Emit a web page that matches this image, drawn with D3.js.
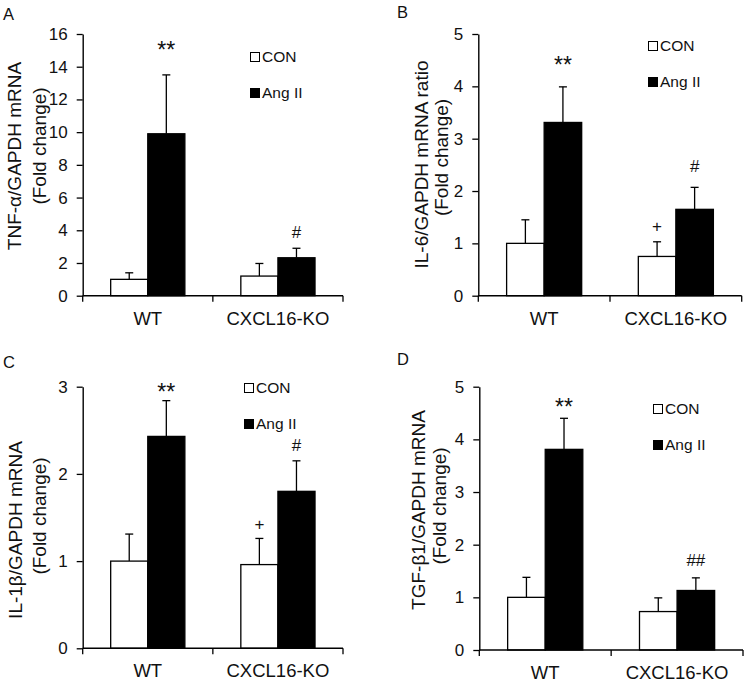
<!DOCTYPE html>
<html>
<head>
<meta charset="utf-8">
<script src="https://cdn.jsdelivr.net/npm/d3@7"></script>
<style>
  body { margin: 0; background: #fff; }
  svg { display: block; font-family: "Liberation Sans", Arial, sans-serif; }
</style>
</head>
<body>
<svg id="fig" width="750" height="683"></svg>
<script>
/*------------------- data --------------------*/
const groups = ["WT", "CXCL16-KO"];
const seriesNames = ["CON", "Ang II"];

// A: TNF-alpha
const tnfCon = [1.0, 1.2];
const tnfConSd = [0.4, 0.77];
const tnfAng = [9.9, 2.32];
const tnfAngSd = [3.6, 0.58];
const tnfTicks = [0, 2, 4, 6, 8, 10, 12, 14, 16];
const tnfTitle = ["TNF-α/GAPDH mRNA", "(Fold change)"];
const tnfMarks = [{ g: 0, s: 1, t: "**" }, { g: 1, s: 1, t: "#" }];

// B: IL-6
const il6Con = [1.0, 0.75];
const il6ConSd = [0.45, 0.28];
const il6Ang = [3.31, 1.65];
const il6AngSd = [0.68, 0.42];
const il6Ticks = [0, 1, 2, 3, 4, 5];
const il6Title = ["IL-6/GAPDH mRNA ratio", "(Fold change)"];
const il6Marks = [{ g: 0, s: 1, t: "**" }, { g: 1, s: 0, t: "+" }, { g: 1, s: 1, t: "#" }];

// C: IL-1beta
const il1Con = [1.0, 0.96];
const il1ConSd = [0.31, 0.3];
const il1Ang = [2.43, 1.8];
const il1AngSd = [0.41, 0.35];
const il1Ticks = [0, 1, 2, 3];
const il1Title = ["IL-1β/GAPDH mRNA", "(Fold change)"];
const il1Marks = [{ g: 0, s: 1, t: "**" }, { g: 1, s: 0, t: "+" }, { g: 1, s: 1, t: "#" }];

// D: TGF-beta1
const tgfCon = [1.0, 0.73];
const tgfConSd = [0.38, 0.26];
const tgfAng = [3.81, 1.13];
const tgfAngSd = [0.59, 0.24];
const tgfTicks = [0, 1, 2, 3, 4, 5];
const tgfTitle = ["TGF-β1/GAPDH mRNA", "(Fold change)"];
const tgfMarks = [{ g: 0, s: 1, t: "**" }, { g: 1, s: 1, t: "##" }];

/*------------------- layout --------------------*/
const panels = [
    { letter: "A", lx: 3, ly: 20, left: 82.7, right: 343, top: 34, bottom: 295.7,
      con: tnfCon, conSd: tnfConSd, ang: tnfAng, angSd: tnfAngSd, ticks: tnfTicks,
      title: tnfTitle, t1: [21, 156], t2: [46, 146], leg: [250, 52], marks: tnfMarks, markDy: [17, 10] },
    { letter: "B", lx: 397, ly: 18, left: 478.3, right: 741.7, top: 34, bottom: 295.7,
      con: il6Con, conSd: il6ConSd, ang: il6Ang, angSd: il6AngSd, ticks: il6Ticks,
      title: il6Title, t1: [428, 164.5], t2: [448, 157.5], leg: [648, 41], marks: il6Marks, markDy: [14, 10, 15] },
    { letter: "C", lx: 3, ly: 368, left: 82.7, right: 343, top: 386.7, bottom: 648.3,
      con: il1Con, conSd: il1ConSd, ang: il1Ang, angSd: il1AngSd, ticks: il1Ticks,
      title: il1Title, t1: [22, 530], t2: [46, 516], leg: [244, 383], marks: il1Marks, markDy: [1, 8, 10] },
    { letter: "D", lx: 397, ly: 365, left: 479.3, right: 743, top: 386.7, bottom: 650,
      con: tgfCon, conSd: tgfConSd, ang: tgfAng, angSd: tgfAngSd, ticks: tgfTicks,
      title: tgfTitle, t1: [425, 510], t2: [446, 506], leg: [653, 404], marks: tgfMarks, markDy: [3, 12] }
];

const svg = d3.select("#fig");

panels.forEach(p => drawPanel(p));

function drawPanel(p) {
    const g = svg.append("g");

    const x = d3.scaleBand().domain(groups).range([p.left, p.right]);
    const bw = x.bandwidth();
    const barW = bw * 0.285;
    const xs = d3.scaleBand().domain(seriesNames).range([bw / 2 - barW, bw / 2 + barW]);
    const y = d3.scaleLinear().domain([0, d3.max(p.ticks)]).range([p.bottom, p.top]);

    // rows: one per bar
    const rows = [];
    groups.forEach((grp, i) => {
        rows.push({ grp: grp, s: "CON", v: p.con[i], sd: p.conSd[i] });
        rows.push({ grp: grp, s: "Ang II", v: p.ang[i], sd: p.angSd[i] });
    });
    const cx = d => x(d.grp) + xs(d.s) + xs.bandwidth() / 2;

    // error bars (upper only)
    g.selectAll(".err").data(rows).enter().append("line")
        .attr("x1", cx).attr("x2", cx)
        .attr("y1", d => y(d.v)).attr("y2", d => y(d.v + d.sd))
        .attr("stroke", "#000").attr("stroke-width", 1.3);
    g.selectAll(".cap").data(rows).enter().append("line")
        .attr("x1", d => cx(d) - 4).attr("x2", d => cx(d) + 4)
        .attr("y1", d => y(d.v + d.sd)).attr("y2", d => y(d.v + d.sd))
        .attr("stroke", "#000").attr("stroke-width", 1.3);

    // bars
    g.selectAll(".bar").data(rows).enter().append("rect")
        .attr("x", d => x(d.grp) + xs(d.s))
        .attr("y", d => y(d.v))
        .attr("width", xs.bandwidth())
        .attr("height", d => y(0) - y(d.v))
        .attr("fill", d => d.s === "CON" ? "#fff" : "#000")
        .attr("stroke", "#000").attr("stroke-width", 1.3);

    // y axis
    const yAxis = d3.axisLeft(y).tickValues(p.ticks).tickFormat(d3.format("d"))
        .tickSize(6).tickPadding(9).tickSizeOuter(0);
    const ya = g.append("g").attr("transform", `translate(${p.left},0)`).call(yAxis);
    ya.select(".domain").attr("stroke-width", 1.4);
    ya.selectAll(".tick line").attr("stroke-width", 1.3);
    ya.selectAll("text").attr("font-size", 17).attr("font-family", "Liberation Sans, Arial, sans-serif").attr("fill", "#111");

    // x axis: line with ticks at the band edges
    g.append("line").attr("x1", p.left).attr("x2", p.right)
        .attr("y1", p.bottom).attr("y2", p.bottom)
        .attr("stroke", "#000").attr("stroke-width", 1.4);
    const edges = groups.map(d => x(d)).concat([p.right]);
    g.selectAll(".xt").data(edges).enter().append("line")
        .attr("x1", d => d).attr("x2", d => d)
        .attr("y1", p.bottom).attr("y2", p.bottom + 6)
        .attr("stroke", "#000").attr("stroke-width", 1.3);
    g.selectAll(".xl").data(groups).enter().append("text")
        .attr("x", d => x(d) + bw / 2)
        .attr("y", p.bottom + 29)
        .attr("text-anchor", "middle")
        .attr("font-size", 18.5)
        .attr("fill", "#111")
        .text(d => d);

    // y title (two lines)
    [p.t1, p.t2].forEach((pos, i) => {
        g.append("text")
            .attr("transform", `translate(${pos[0]},${pos[1]}) rotate(-90)`)
            .attr("text-anchor", "middle")
            .attr("font-size", 19)
            .attr("fill", "#111")
            .text(p.title[i]);
    });

    // significance marks
    p.marks.forEach((m, i) => {
        const d = rows[m.g * 2 + m.s];
        g.append("text")
            .attr("x", cx(d))
            .attr("y", y(d.v + d.sd) - p.markDy[i])
            .attr("text-anchor", "middle")
            .attr("font-size", m.t === "**" ? 23 : 17)
            .attr("fill", "#111")
            .text(m.t);
    });

    // legend
    seriesNames.forEach((s, i) => {
        const ly = p.leg[1] + i * 36;
        g.append("rect")
            .attr("x", p.leg[0] + 0.5).attr("y", ly + 0.5)
            .attr("width", 9).attr("height", 9)
            .attr("fill", s === "CON" ? "#fff" : "#000")
            .attr("stroke", "#000").attr("stroke-width", 1);
        g.append("text")
            .attr("x", p.leg[0] + 12)
            .attr("y", ly + 10)
            .attr("font-size", 15.5)
            .attr("fill", "#111")
            .text(s);
    });

    // panel letter
    g.append("text")
        .attr("x", p.lx).attr("y", p.ly)
        .attr("font-size", 16.5)
        .attr("fill", "#111")
        .text(p.letter);
}
</script>
</body>
</html>
